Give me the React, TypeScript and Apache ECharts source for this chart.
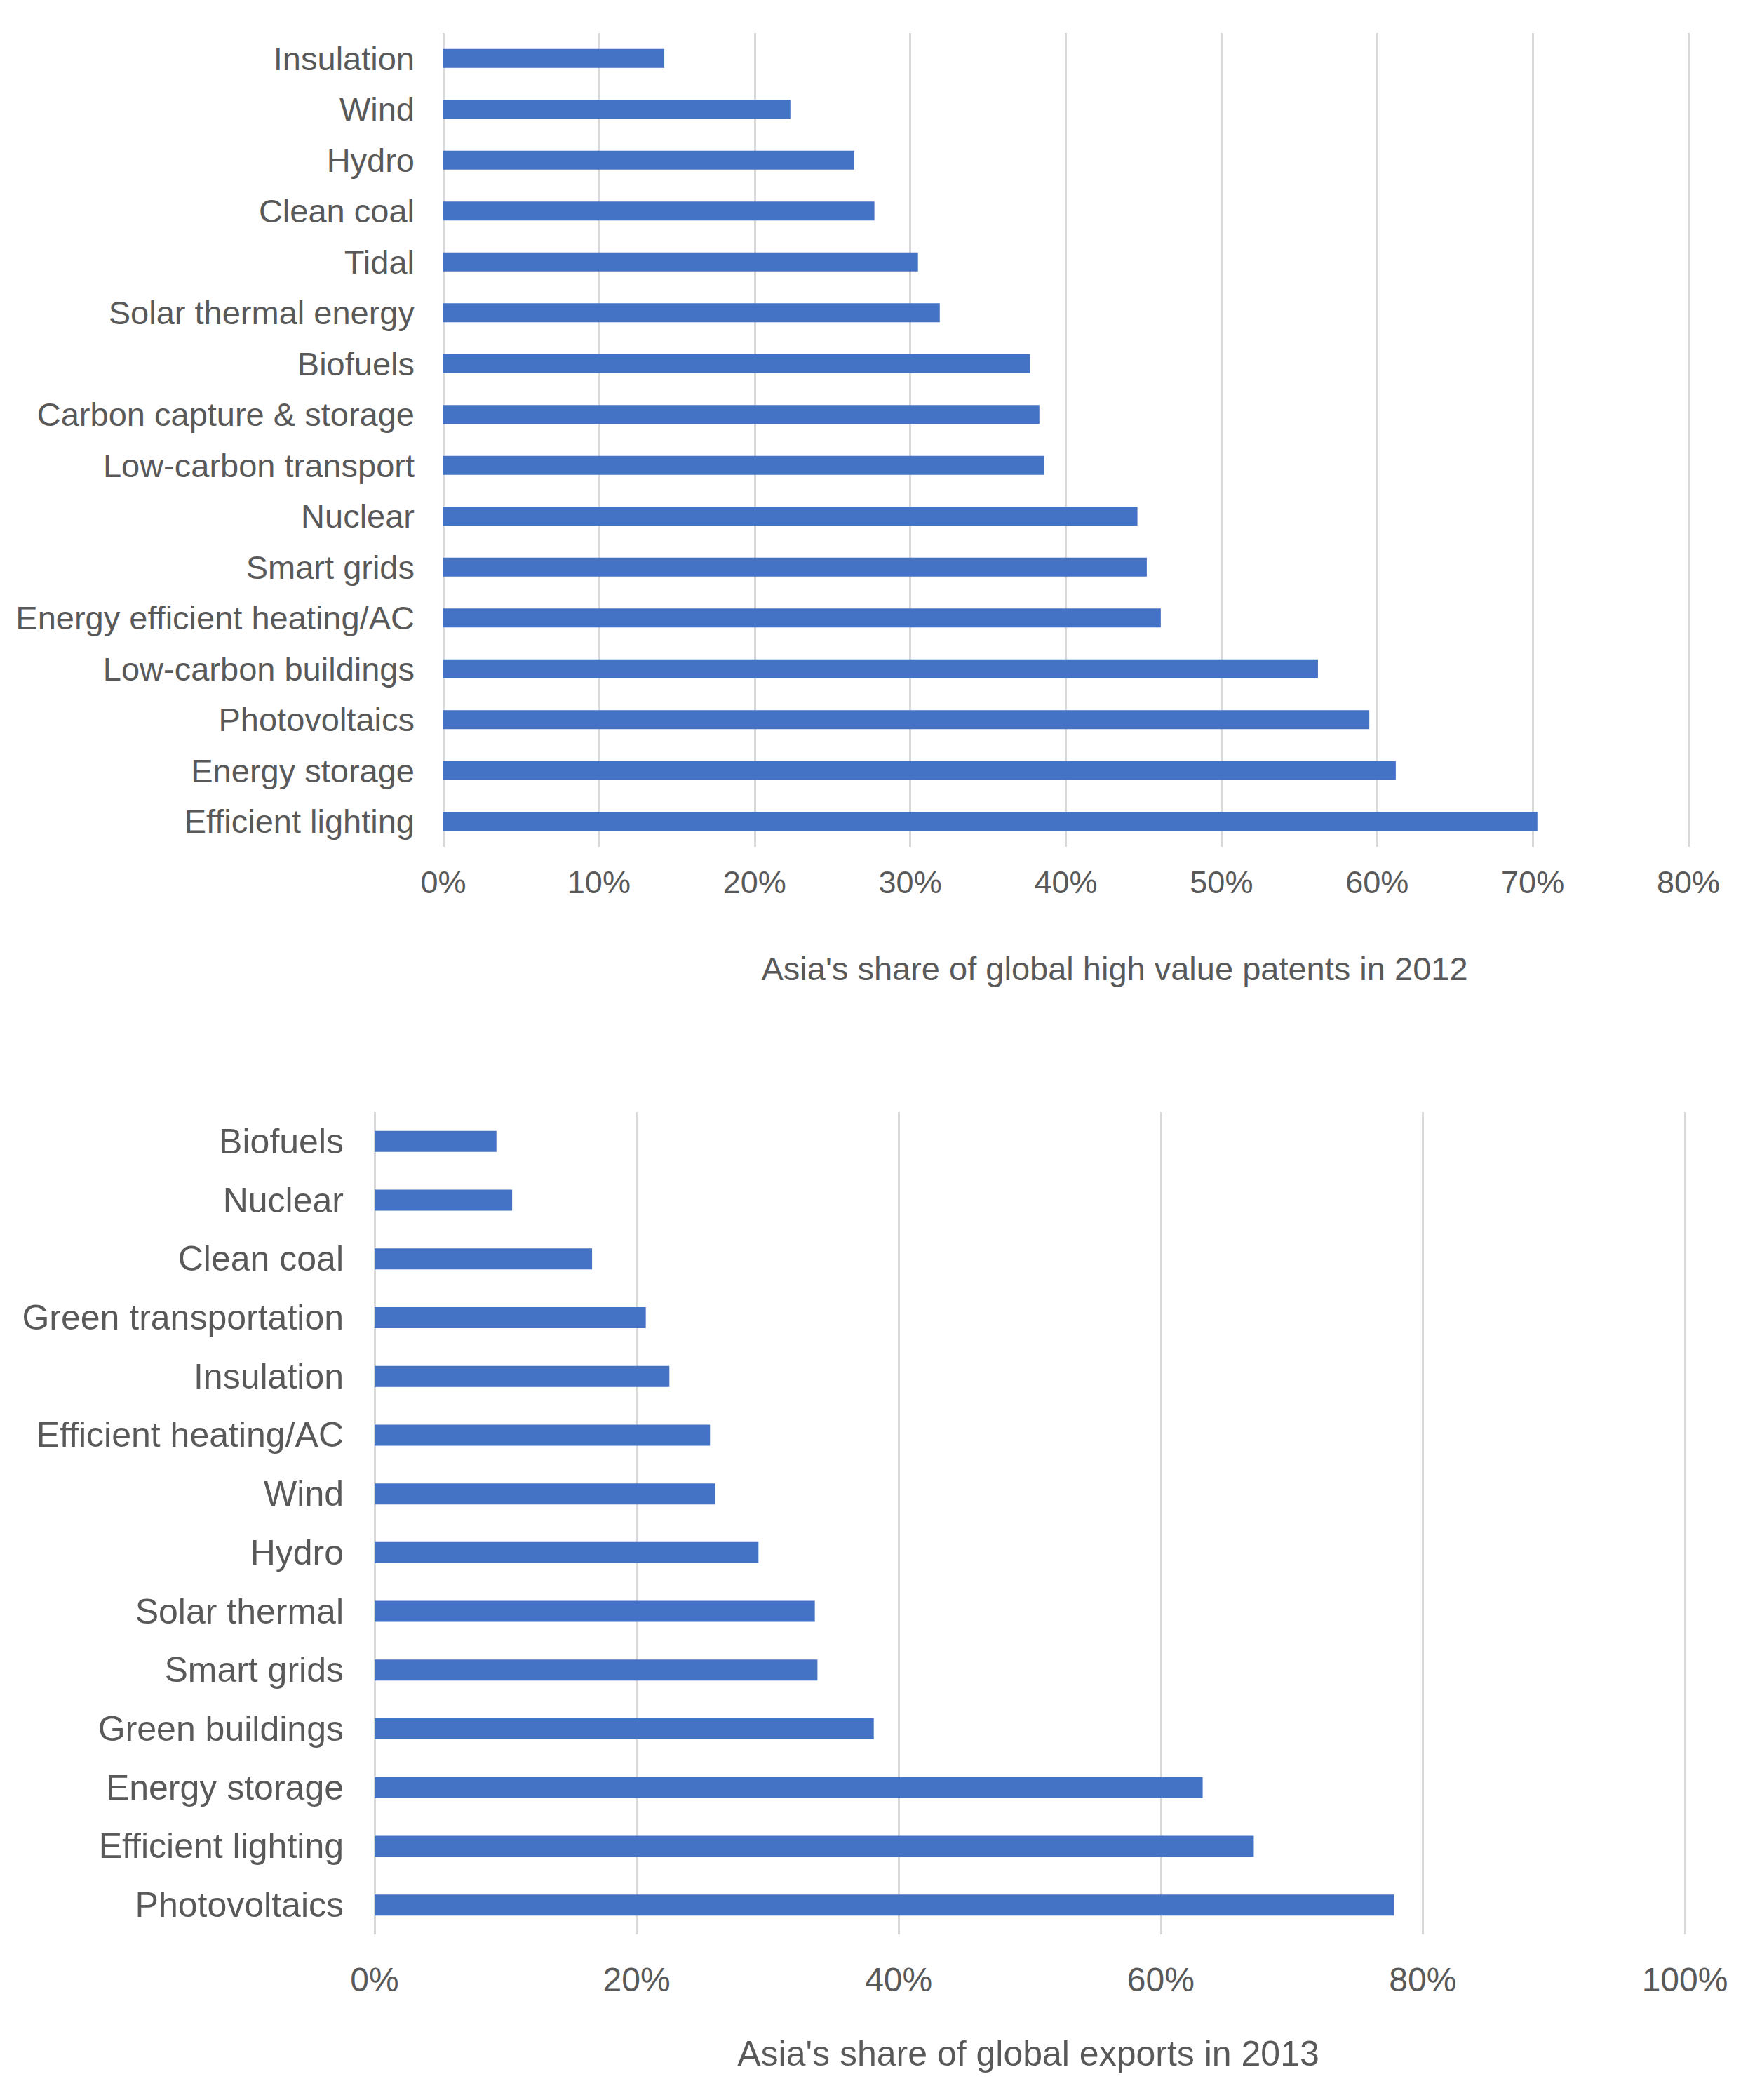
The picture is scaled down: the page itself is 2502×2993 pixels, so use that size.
import React, { useEffect, useRef } from "react";
import * as echarts from "echarts";

const patentCategories = [
  "Insulation",
  "Wind",
  "Hydro",
  "Clean coal",
  "Tidal",
  "Solar thermal energy",
  "Biofuels",
  "Carbon capture & storage",
  "Low-carbon transport",
  "Nuclear",
  "Smart grids",
  "Energy efficient heating/AC",
  "Low-carbon buildings",
  "Photovoltaics",
  "Energy storage",
  "Efficient lighting",
];
const patentValues = [14.2, 22.3, 26.4, 27.7, 30.5, 31.9, 37.7, 38.3, 38.6, 44.6, 45.2, 46.1, 56.2, 59.5, 61.2, 70.3];

const exportCategories = [
  "Biofuels",
  "Nuclear",
  "Clean coal",
  "Green transportation",
  "Insulation",
  "Efficient heating/AC",
  "Wind",
  "Hydro",
  "Solar thermal",
  "Smart grids",
  "Green buildings",
  "Energy storage",
  "Efficient lighting",
  "Photovoltaics",
];
const exportValues = [9.3, 10.5, 16.6, 20.7, 22.5, 25.6, 26.0, 29.3, 33.6, 33.8, 38.1, 63.2, 67.1, 77.8];

const patentTitle = "Asia's share of global high value patents in 2012";
const exportTitle = "Asia's share of global exports in 2013";

const FONT = "'Liberation Sans', Arial, Helvetica, sans-serif";
const TEXT = "#595959";
const GRID = "#D9D9D9";
const BAR = "#4472C4";

export default function App() {
  const ref = useRef<HTMLDivElement>(null);
  useEffect(() => {
    if (!ref.current) return;
    const chart = echarts.init(ref.current, undefined, { renderer: "svg" });
    chart.setOption({
      animation: false,
      backgroundColor: "#ffffff",
      textStyle: { fontFamily: FONT },
      grid: [
        { left: 632, top: 47, width: 1775, height: 1160, containLabel: false },
        { left: 534, top: 1585, width: 1868, height: 1172, containLabel: false },
      ],
      xAxis: [
        {
          type: "value",
          gridIndex: 0,
          min: 0,
          max: 80,
          interval: 10,
          axisLine: { show: false },
          axisTick: { show: false },
          splitLine: { show: true, lineStyle: { color: GRID, width: 3 } },
          axisLabel: { formatter: "{value}%", color: TEXT, fontSize: 45, fontFamily: FONT, margin: 28 },
        },
        {
          type: "value",
          gridIndex: 1,
          min: 0,
          max: 100,
          interval: 20,
          axisLine: { show: false },
          axisTick: { show: false },
          splitLine: { show: true, lineStyle: { color: GRID, width: 3 } },
          axisLabel: { formatter: "{value}%", color: TEXT, fontSize: 48, fontFamily: FONT, margin: 40 },
        },
      ],
      yAxis: [
        {
          type: "category",
          gridIndex: 0,
          inverse: true,
          data: patentCategories,
          axisLine: { show: false },
          axisTick: { show: false },
          axisLabel: { color: TEXT, fontSize: 47, fontFamily: FONT, margin: 41 },
        },
        {
          type: "category",
          gridIndex: 1,
          inverse: true,
          data: exportCategories,
          axisLine: { show: false },
          axisTick: { show: false },
          axisLabel: { color: TEXT, fontSize: 50, fontFamily: FONT, margin: 44 },
        },
      ],
      series: [
        {
          type: "bar",
          xAxisIndex: 0,
          yAxisIndex: 0,
          data: patentValues,
          barWidth: 27,
          itemStyle: { color: BAR },
        },
        {
          type: "bar",
          xAxisIndex: 1,
          yAxisIndex: 1,
          data: exportValues,
          barWidth: 30,
          itemStyle: { color: BAR },
        },
      ],
      graphic: [
        {
          type: "text",
          x: 1589,
          y: 1380,
          style: {
            text: patentTitle,
            fill: TEXT,
            font: `47px ${FONT}`,
            textAlign: "center",
            textVerticalAlign: "middle",
          },
        },
        {
          type: "text",
          x: 1466,
          y: 2927,
          style: {
            text: exportTitle,
            fill: TEXT,
            font: `50px ${FONT}`,
            textAlign: "center",
            textVerticalAlign: "middle",
          },
        },
      ],
    });
    return () => chart.dispose();
  }, []);
  return (
    <div
      ref={ref}
      style={{ position: "absolute", left: 0, top: 0, width: 2502, height: 2993, background: "#fff" }}
    />
  );
}
